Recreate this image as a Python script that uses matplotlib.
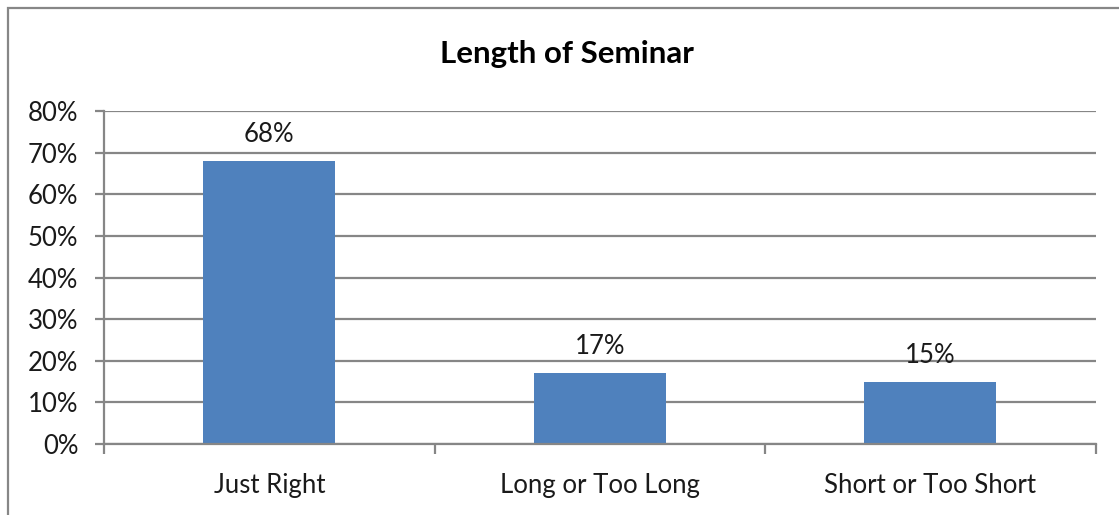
import matplotlib
matplotlib.use("Agg")
import matplotlib.pyplot as plt
from matplotlib.patches import Rectangle
from matplotlib.ticker import MultipleLocator, PercentFormatter

categories = ["Just Right", "Long or Too Long", "Short or Too Short"]
shares = [68, 17, 15]
title = "Length of Seminar"

plt.rcParams["font.family"] = ["Lato", "DejaVu Sans"]

W, H = 1119, 515
fig = plt.figure(figsize=(W / 100, H / 100), dpi=100)

# outer chart frame
fig.patches.append(Rectangle((8 / W, -0.1), 1.2, (H - 8) / H + 0.1,
                             transform=fig.transFigure, fill=False,
                             edgecolor="#878787", linewidth=1.6))

left, right, top, bottom = 104, 1095.5, 111, 444
ax = fig.add_axes([left / W, (H - bottom) / H, (right - left) / W, (bottom - top) / H])

grid_c = "#868686"
text_c = "#1a1a1a"
fs = 18.5
x = range(len(categories))
bars = ax.bar(x, shares, width=0.4, color="#4F81BD", zorder=3)

ax.set_xlim(-0.5, len(categories) - 0.5)
ax.set_ylim(0, 80)
ax.yaxis.set_major_locator(MultipleLocator(10))
ax.yaxis.set_major_formatter(PercentFormatter(decimals=0))
ax.yaxis.grid(True, color=grid_c, linewidth=1.6, zorder=0)

ax.set_xticks([i - 0.5 for i in range(len(categories) + 1)])
ax.set_xticklabels([])
ax.set_xticks(list(x), minor=True)
ax.set_xticklabels(categories, minor=True)
ax.tick_params(axis="x", which="minor", length=0, pad=21, labelsize=fs, labelcolor=text_c)
ax.tick_params(axis="x", which="major", length=7, width=1.6, color=grid_c, direction="out")
ax.tick_params(axis="y", length=6.5, width=1.6, color=grid_c, pad=12, labelsize=fs, labelcolor=text_c)

for s in ["top", "right"]:
    ax.spines[s].set_visible(False)
for s in ["left", "bottom"]:
    ax.spines[s].set_color(grid_c)
    ax.spines[s].set_linewidth(1.6)
    ax.spines[s].set_zorder(4)

for b, v in zip(bars, shares):
    ax.annotate(f"{v}%", (b.get_x() + b.get_width() / 2, v),
                xytext=(0, 10), textcoords="offset points",
                ha="center", va="bottom", fontsize=fs, color=text_c)

fig.text(567 / W, 1 - 54 / H, title, ha="center", va="center",
         fontsize=22.5, fontweight="bold", color="black")

fig.savefig("out.png", dpi=100)
